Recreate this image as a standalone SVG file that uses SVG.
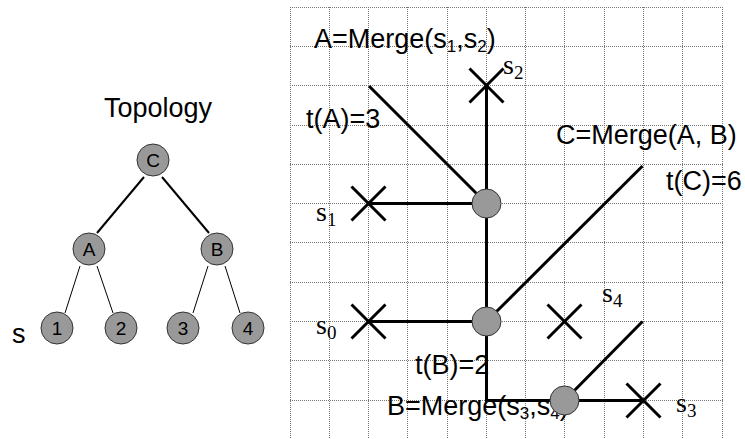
<svg xmlns="http://www.w3.org/2000/svg" width="745" height="439" viewBox="0 0 745 439">
<style>
.grid line{stroke:#777;stroke-width:1;stroke-dasharray:1 1}
.thick{stroke:#000;stroke-width:3;fill:none}
.tedge{stroke:#000;stroke-width:2}
.nedge{stroke:#000;stroke-width:1}
.node{fill:#999;stroke:#333;stroke-width:1}
.lbl{font-family:"Liberation Sans",Arial,sans-serif;font-size:27px;fill:#000}
.nlbl{font-family:"Liberation Sans",Arial,sans-serif;font-size:19px;fill:#000;text-anchor:middle}
.ser{font-family:"Liberation Serif","Times New Roman",serif;font-size:28px;fill:#000}
.sub{font-size:17px}
.ssub{font-size:19px}
</style>
<rect width="745" height="439" fill="#fff"/>
<g class="grid">
<line x1="290.5" y1="7" x2="290.5" y2="439"/>
<line x1="329.5" y1="7" x2="329.5" y2="439"/>
<line x1="368.5" y1="7" x2="368.5" y2="439"/>
<line x1="407.5" y1="7" x2="407.5" y2="439"/>
<line x1="447.5" y1="7" x2="447.5" y2="439"/>
<line x1="486.5" y1="7" x2="486.5" y2="439"/>
<line x1="525.5" y1="7" x2="525.5" y2="439"/>
<line x1="564.5" y1="7" x2="564.5" y2="439"/>
<line x1="604.5" y1="7" x2="604.5" y2="439"/>
<line x1="643.5" y1="7" x2="643.5" y2="439"/>
<line x1="682.5" y1="7" x2="682.5" y2="439"/>
<line x1="722.5" y1="7" x2="722.5" y2="439"/>
<line x1="290" y1="7.5" x2="723" y2="7.5"/>
<line x1="290" y1="46.5" x2="723" y2="46.5"/>
<line x1="290" y1="85.5" x2="723" y2="85.5"/>
<line x1="290" y1="125.5" x2="723" y2="125.5"/>
<line x1="290" y1="164.5" x2="723" y2="164.5"/>
<line x1="290" y1="203.5" x2="723" y2="203.5"/>
<line x1="290" y1="242.5" x2="723" y2="242.5"/>
<line x1="290" y1="282.5" x2="723" y2="282.5"/>
<line x1="290" y1="321.5" x2="723" y2="321.5"/>
<line x1="290" y1="360.5" x2="723" y2="360.5"/>
<line x1="290" y1="400.5" x2="723" y2="400.5"/>
</g>

<g id="topology-edges">
<line class="tedge" x1="144" y1="177" x2="97" y2="233"/>
<line class="tedge" x1="162" y1="177" x2="209" y2="233"/>
<line class="nedge" x1="80" y1="266" x2="65" y2="313"/>
<line class="nedge" x1="97" y1="266" x2="113" y2="313"/>
<line class="nedge" x1="208" y1="266" x2="193" y2="313"/>
<line class="nedge" x1="225" y1="266" x2="240" y2="313"/>
</g>
<text class="lbl" x="104" y="117">Topology</text>
<text class="lbl" x="12" y="343">s</text>
<g id="tC"><circle class="node" cx="153" cy="160" r="16"/><text class="nlbl" x="153" y="167">C</text></g>
<g id="tA"><circle class="node" cx="89" cy="249" r="16"/><text class="nlbl" x="89" y="256">A</text></g>
<g id="tB"><circle class="node" cx="217" cy="249" r="16"/><text class="nlbl" x="217" y="256">B</text></g>
<g id="t1"><circle class="node" cx="57" cy="328" r="16"/><text class="nlbl" x="57" y="335">1</text></g>
<g id="t2"><circle class="node" cx="121" cy="328" r="16"/><text class="nlbl" x="121" y="335">2</text></g>
<g id="t3"><circle class="node" cx="183" cy="328" r="16"/><text class="nlbl" x="183" y="335">3</text></g>
<g id="t4"><circle class="node" cx="248" cy="328" r="16"/><text class="nlbl" x="248" y="335">4</text></g>

<g id="connectors" class="thick">
<line x1="486.5" y1="85.5" x2="486.5" y2="400.5"/>
<line x1="485" y1="400.5" x2="643.5" y2="400.5"/>
<line x1="368.5" y1="203.5" x2="486.5" y2="203.5"/>
<line x1="368.5" y1="321.5" x2="486.5" y2="321.5"/>
<line x1="369" y1="86" x2="486.5" y2="203.5"/>
<line x1="486.5" y1="321.5" x2="642.5" y2="166"/>
<line x1="564.5" y1="400.5" x2="642.5" y2="321.5"/>
</g>

<g id="crosses" class="thick">
<path id="x-s2" d="M469.5 68.5 L503.5 102.5 M503.5 68.5 L469.5 102.5"/>
<path id="x-s1" d="M351.5 186.5 L385.5 220.5 M385.5 186.5 L351.5 220.5"/>
<path id="x-s0" d="M351.5 304.5 L385.5 338.5 M385.5 304.5 L351.5 338.5"/>
<path id="x-s4" d="M547.5 304.5 L581.5 338.5 M581.5 304.5 L547.5 338.5"/>
<path id="x-s3" d="M626.5 383.5 L660.5 417.5 M660.5 383.5 L626.5 417.5"/>
</g>

<g id="labels">
<text class="lbl" x="314" y="48">A=Merge(s<tspan class="sub" dy="4">1</tspan><tspan dy="-4">,s</tspan><tspan class="sub" dy="4">2</tspan><tspan dy="-4">)</tspan></text>
<text class="lbl" x="306" y="128">t(A)=3</text>
<text class="lbl" x="556" y="144">C=Merge(A, B)</text>
<text class="lbl" x="666" y="190">t(C)=6</text>
<text class="lbl" x="415" y="374">t(B)=2</text>
<text class="lbl" x="387" y="415">B=Merge(s<tspan class="sub" dy="4">3</tspan><tspan dy="-4">,s</tspan><tspan class="sub" dy="4">4</tspan><tspan dy="-4">)</tspan></text>
<text class="ser" x="503" y="74">s<tspan class="ssub" dy="5">2</tspan></text>
<text class="ser" x="316" y="221">s<tspan class="ssub" dy="5">1</tspan></text>
<text class="ser" x="316" y="334">s<tspan class="ssub" dy="5">0</tspan></text>
<text class="ser" x="602" y="302">s<tspan class="ssub" dy="5">4</tspan></text>
<text class="ser" x="676" y="412">s<tspan class="ssub" dy="5">3</tspan></text>
</g>

<g id="nodeA"><circle class="node" cx="486.5" cy="203.5" r="14.5"/></g>
<g id="nodeC"><circle class="node" cx="486.5" cy="321.5" r="14.5"/></g>
<g id="nodeB"><circle class="node" cx="564.5" cy="400.5" r="14.5"/></g>
</svg>
